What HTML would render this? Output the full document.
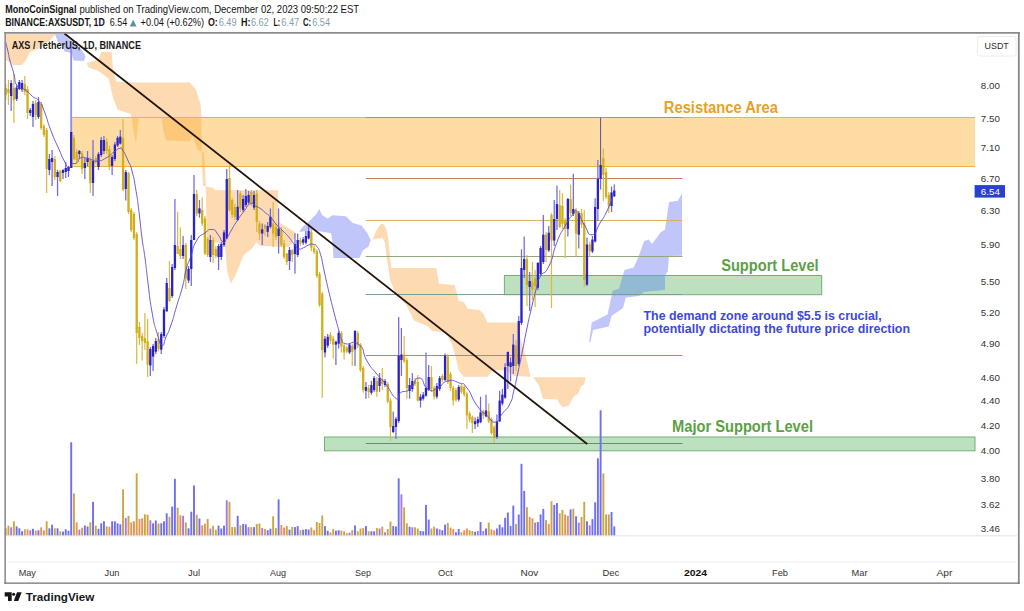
<!DOCTYPE html>
<html lang="en"><head><meta charset="utf-8"><title>AXS / TetherUS chart</title>
<style>html,body{margin:0;padding:0;background:#fff;}body{width:1024px;height:611px;overflow:hidden;position:relative;font-family:"Liberation Sans",sans-serif;}svg{position:absolute;left:0;top:0;display:block;}text{font-family:"Liberation Sans",sans-serif;}</style>
</head><body>
<svg width="1024" height="611" viewBox="0 0 1024 611">
<rect x="0" y="0" width="1024" height="611" fill="#ffffff"/>
<g id="clouds">
<polygon points="6,34 56,34 48,42 38,49 30,52 26,60 22,65 13,65 6,60" fill="#fddab2"/>
<polygon points="87,63 98.3,59.5 101.3,52 111.6,52 113,68 116,81.6 127.8,82.5 189.7,82.5 195.6,89 200.5,103.7 201.5,118.4 202,165.6 203,186 213,187.7 215,190.3 278,190.3 278.6,222 296.2,233 292.8,242.3 289.4,246.8 278,246.8 260,245.7 256.4,242 251.5,249 243.6,255 235.7,274.7 230.8,283.5 227.3,271.7 225,246.8 224,245 206.8,239.3 206,204 205.8,189 205.2,168.5 204,152 198.5,150.8 195.6,145 192.6,136 189.7,141.4 166,140.5 163,130 161.7,117 139,117 136,143.5 133.7,133 132,118.4 130.7,114 117.5,109.6 113,97.8 108.6,78.6 98.3,71 88,67" fill="#fddab2"/>
<polygon points="373,239 377,229 381,224 383.5,224 386.3,229 388.2,238 389.8,255 391.3,268 436.3,268 439,283.8 454.7,285 458.6,300.8 463.8,302 467.8,308.7 479.6,310 483.5,314 487.4,322.6 517.5,322.6 518.9,333.6 522.8,346.7 526.7,359.8 530.6,376.8 533.3,377.3 585.7,377.3 584,384.4 581,386.4 578,394 574.2,396 571.3,401 568.4,405.9 562.5,406.9 559.6,404 557.6,399.5 543,399 539,385.4 533.3,377.3 530.6,376.8 513.6,376 505.8,370.3 492.7,370.3 487.4,376.8 463.8,376.8 458.6,370.3 456,358.5 452,344 445.5,332.3 432.4,331 427,325.7 414,320.5 406.2,304.8 395.7,294.3 390.5,281 388.3,268 386.3,255 384.8,242 382.5,238 378,238.5 373,239.5" fill="#fddab2"/>
<polygon points="55,34 64,34 72,42 81,49 85.5,56 84,61 73.6,60.5 71.5,53 64.6,51.4 62.6,46 57.8,42" fill="#c0c6fa"/>
<polygon points="299.6,231 303,226.5 309.7,220.8 316.5,214 319.2,208.9 322.2,215.2 327.8,218.6 332.3,215.2 345.9,216.3 352.7,223 361.7,225.4 367.4,233.3 370.7,240 368.5,246.8 362.8,250.2 359.5,258 333.5,258 332.8,244.6 331.2,233.3 312,229.9 299.6,232" fill="#c0c6fa"/>
<polygon points="589.2,342 591.8,322.4 607.5,314.6 612.7,291 619.3,288.4 624.5,270 633.7,267.5 638.9,255.7 644,241.3 648.6,239.5 652,244 661,232 665,229.5 669,202 678,200.7 681.6,194 682,194 682,255.7 669,256 667.7,271.4 665,275.3 665,289.7 644,291.8 639,296 625.8,297.6 623,308 611.4,316 608.8,326.4 593,330 590.5,342" fill="#c0c6fa"/>
</g>
<g id="zones">
<rect x="71" y="117.5" width="904" height="49" fill="#ffb43c" fill-opacity="0.47"/>
<path d="M71 117.5H975M71 166.5H975" stroke="#ecb445" stroke-width="1.2" fill="none"/>
<rect x="504.4" y="275.5" width="317.3" height="19.2" fill="#62b866" fill-opacity="0.42" stroke="#6fb272" stroke-width="1"/>
<rect x="324.5" y="437" width="650.5" height="13.8" fill="#62b866" fill-opacity="0.42" stroke="#6fb272" stroke-width="1"/>
<clipPath id="cpS"><rect x="504.9" y="276" width="316.3" height="18.2"/></clipPath>
<polygon points="589.2,342 591.8,322.4 607.5,314.6 612.7,291 619.3,288.4 624.5,270 633.7,267.5 638.9,255.7 644,241.3 648.6,239.5 652,244 661,232 665,229.5 669,202 678,200.7 681.6,194 682,194 682,255.7 669,256 667.7,271.4 665,275.3 665,289.7 644,291.8 639,296 625.8,297.6 623,308 611.4,316 608.8,326.4 593,330 590.5,342" fill="#93bad5" clip-path="url(#cpS)"/>
</g>
<g id="levels" stroke-width="1" fill="none">
<path d="M365.7 117.5H682.5" stroke="#9aa545"/>
<path d="M365.7 178.5H682.5" stroke="#c9806a"/>
<path d="M365.7 220.5H682.5" stroke="#d2b45c"/>
<path d="M365.7 256.5H682.5" stroke="#93a67e"/>
<path d="M365.7 294.5H682.5" stroke="#78a092"/>
<path d="M365.7 355.5H682.5" stroke="#6a9cbc"/>
<path d="M365.7 443.5H682.5" stroke="#6f8a74"/>
</g>
<path d="M6 535.8H1017" stroke="#e4e4e4" stroke-width="1" fill="none"/>
<g id="volume">
<rect x="4.75" y="528.3" width="1.9" height="7.0" fill="#c9a544"/>
<rect x="7.48" y="525.7" width="1.9" height="9.6" fill="#c9a544"/>
<rect x="10.21" y="527.3" width="1.9" height="8.0" fill="#a878e6"/>
<rect x="12.94" y="521.3" width="1.9" height="14.0" fill="#c9a544"/>
<rect x="15.67" y="526.3" width="1.9" height="9.0" fill="#6f6ff2"/>
<rect x="18.39" y="528.3" width="1.9" height="7.0" fill="#6f6ff2"/>
<rect x="21.12" y="531.3" width="1.9" height="4.0" fill="#6f6ff2"/>
<rect x="23.85" y="529.3" width="1.9" height="6.0" fill="#c9a544"/>
<rect x="26.58" y="529.3" width="1.9" height="6.0" fill="#ec9058"/>
<rect x="29.31" y="530.3" width="1.9" height="5.0" fill="#a878e6"/>
<rect x="32.04" y="528.8" width="1.9" height="6.5" fill="#6f6ff2"/>
<rect x="34.77" y="530.6" width="1.9" height="4.7" fill="#c9a544"/>
<rect x="37.50" y="530.3" width="1.9" height="5.0" fill="#6f6ff2"/>
<rect x="40.23" y="527.3" width="1.9" height="8.0" fill="#ec9058"/>
<rect x="42.96" y="530.3" width="1.9" height="5.0" fill="#ec9058"/>
<rect x="45.69" y="521.3" width="1.9" height="14.0" fill="#c9a544"/>
<rect x="48.41" y="528.3" width="1.9" height="7.0" fill="#6f6ff2"/>
<rect x="51.14" y="524.7" width="1.9" height="10.6" fill="#6f6ff2"/>
<rect x="53.87" y="528.3" width="1.9" height="7.0" fill="#c9a544"/>
<rect x="56.60" y="528.3" width="1.9" height="7.0" fill="#6f6ff2"/>
<rect x="59.33" y="531.3" width="1.9" height="4.0" fill="#c9a544"/>
<rect x="62.06" y="531.6" width="1.9" height="3.7" fill="#6f6ff2"/>
<rect x="64.79" y="529.3" width="1.9" height="6.0" fill="#6f6ff2"/>
<rect x="67.52" y="530.8" width="1.9" height="4.5" fill="#6f6ff2"/>
<rect x="70.25" y="442.3" width="1.9" height="93.0" fill="#6f6ff2"/>
<rect x="72.98" y="493.3" width="1.9" height="42.0" fill="#c9a544"/>
<rect x="75.70" y="522.3" width="1.9" height="13.0" fill="#ec9058"/>
<rect x="78.43" y="529.6" width="1.9" height="5.7" fill="#a878e6"/>
<rect x="81.16" y="527.7" width="1.9" height="7.6" fill="#c9a544"/>
<rect x="83.89" y="525.5" width="1.9" height="9.8" fill="#6f6ff2"/>
<rect x="86.62" y="526.5" width="1.9" height="8.8" fill="#6f6ff2"/>
<rect x="89.35" y="522.3" width="1.9" height="13.0" fill="#c9a544"/>
<rect x="92.08" y="501.9" width="1.9" height="33.4" fill="#6f6ff2"/>
<rect x="94.81" y="525.7" width="1.9" height="9.6" fill="#c9a544"/>
<rect x="97.54" y="528.8" width="1.9" height="6.5" fill="#6f6ff2"/>
<rect x="100.27" y="523.3" width="1.9" height="12.0" fill="#6f6ff2"/>
<rect x="102.99" y="521.3" width="1.9" height="14.0" fill="#6f6ff2"/>
<rect x="105.72" y="526.3" width="1.9" height="9.0" fill="#c9a544"/>
<rect x="108.45" y="526.7" width="1.9" height="8.6" fill="#ec9058"/>
<rect x="111.18" y="521.3" width="1.9" height="14.0" fill="#6f6ff2"/>
<rect x="113.91" y="521.3" width="1.9" height="14.0" fill="#6f6ff2"/>
<rect x="116.64" y="523.3" width="1.9" height="12.0" fill="#6f6ff2"/>
<rect x="119.37" y="524.3" width="1.9" height="11.0" fill="#6f6ff2"/>
<rect x="122.10" y="489.3" width="1.9" height="46.0" fill="#c9a544"/>
<rect x="124.83" y="517.9" width="1.9" height="17.4" fill="#a878e6"/>
<rect x="127.55" y="515.8" width="1.9" height="19.5" fill="#c9a544"/>
<rect x="130.28" y="522.3" width="1.9" height="13.0" fill="#ec9058"/>
<rect x="133.01" y="521.3" width="1.9" height="14.0" fill="#ec9058"/>
<rect x="135.74" y="473.3" width="1.9" height="62.0" fill="#c9a544"/>
<rect x="138.47" y="518.9" width="1.9" height="16.4" fill="#ec9058"/>
<rect x="141.20" y="518.3" width="1.9" height="17.0" fill="#ec9058"/>
<rect x="143.93" y="514.3" width="1.9" height="21.0" fill="#c9a544"/>
<rect x="146.66" y="514.8" width="1.9" height="20.5" fill="#c9a544"/>
<rect x="149.39" y="520.3" width="1.9" height="15.0" fill="#a878e6"/>
<rect x="152.12" y="523.3" width="1.9" height="12.0" fill="#6f6ff2"/>
<rect x="154.84" y="520.5" width="1.9" height="14.8" fill="#6f6ff2"/>
<rect x="157.57" y="523.6" width="1.9" height="11.7" fill="#c9a544"/>
<rect x="160.30" y="523.3" width="1.9" height="12.0" fill="#6f6ff2"/>
<rect x="163.03" y="521.3" width="1.9" height="14.0" fill="#6f6ff2"/>
<rect x="165.76" y="513.3" width="1.9" height="22.0" fill="#6f6ff2"/>
<rect x="168.49" y="516.8" width="1.9" height="18.5" fill="#c9a544"/>
<rect x="171.22" y="506.6" width="1.9" height="28.7" fill="#6f6ff2"/>
<rect x="173.95" y="478.9" width="1.9" height="56.4" fill="#6f6ff2"/>
<rect x="176.68" y="507.6" width="1.9" height="27.7" fill="#c9a544"/>
<rect x="179.41" y="515.3" width="1.9" height="20.0" fill="#ec9058"/>
<rect x="182.14" y="515.8" width="1.9" height="19.5" fill="#a878e6"/>
<rect x="184.86" y="522.3" width="1.9" height="13.0" fill="#c9a544"/>
<rect x="187.59" y="528.3" width="1.9" height="7.0" fill="#6f6ff2"/>
<rect x="190.32" y="511.7" width="1.9" height="23.6" fill="#6f6ff2"/>
<rect x="193.05" y="485.5" width="1.9" height="49.8" fill="#6f6ff2"/>
<rect x="195.78" y="514.8" width="1.9" height="20.5" fill="#c9a544"/>
<rect x="198.51" y="518.5" width="1.9" height="16.8" fill="#6f6ff2"/>
<rect x="201.24" y="525.3" width="1.9" height="10.0" fill="#ec9058"/>
<rect x="203.97" y="523.6" width="1.9" height="11.7" fill="#ec9058"/>
<rect x="206.70" y="518.9" width="1.9" height="16.4" fill="#c9a544"/>
<rect x="209.43" y="528.5" width="1.9" height="6.8" fill="#a878e6"/>
<rect x="212.15" y="525.7" width="1.9" height="9.6" fill="#c9a544"/>
<rect x="214.88" y="529.8" width="1.9" height="5.5" fill="#c9a544"/>
<rect x="217.61" y="525.7" width="1.9" height="9.6" fill="#6f6ff2"/>
<rect x="220.34" y="528.5" width="1.9" height="6.8" fill="#6f6ff2"/>
<rect x="223.07" y="525.7" width="1.9" height="9.6" fill="#6f6ff2"/>
<rect x="225.80" y="500.4" width="1.9" height="34.9" fill="#a878e6"/>
<rect x="228.53" y="501.9" width="1.9" height="33.4" fill="#c9a544"/>
<rect x="231.26" y="527.1" width="1.9" height="8.2" fill="#c9a544"/>
<rect x="233.99" y="527.1" width="1.9" height="8.2" fill="#c9a544"/>
<rect x="236.72" y="515.8" width="1.9" height="19.5" fill="#6f6ff2"/>
<rect x="239.44" y="525.3" width="1.9" height="10.0" fill="#c9a544"/>
<rect x="242.17" y="524.0" width="1.9" height="11.3" fill="#6f6ff2"/>
<rect x="244.90" y="524.4" width="1.9" height="10.9" fill="#6f6ff2"/>
<rect x="247.63" y="527.1" width="1.9" height="8.2" fill="#a878e6"/>
<rect x="250.36" y="527.1" width="1.9" height="8.2" fill="#c9a544"/>
<rect x="253.09" y="527.1" width="1.9" height="8.2" fill="#6f6ff2"/>
<rect x="255.82" y="524.0" width="1.9" height="11.3" fill="#c9a544"/>
<rect x="258.55" y="523.4" width="1.9" height="11.9" fill="#c9a544"/>
<rect x="261.28" y="528.1" width="1.9" height="7.2" fill="#a878e6"/>
<rect x="264.00" y="529.1" width="1.9" height="6.2" fill="#c9a544"/>
<rect x="266.73" y="530.2" width="1.9" height="5.1" fill="#6f6ff2"/>
<rect x="269.46" y="528.7" width="1.9" height="6.6" fill="#6f6ff2"/>
<rect x="272.19" y="516.3" width="1.9" height="19.0" fill="#c9a544"/>
<rect x="274.92" y="528.1" width="1.9" height="7.2" fill="#c9a544"/>
<rect x="277.65" y="499.4" width="1.9" height="35.9" fill="#6f6ff2"/>
<rect x="280.38" y="525.0" width="1.9" height="10.3" fill="#ec9058"/>
<rect x="283.11" y="527.5" width="1.9" height="7.8" fill="#ec9058"/>
<rect x="285.84" y="526.1" width="1.9" height="9.2" fill="#c9a544"/>
<rect x="288.57" y="529.6" width="1.9" height="5.7" fill="#6f6ff2"/>
<rect x="291.30" y="527.1" width="1.9" height="8.2" fill="#c9a544"/>
<rect x="294.02" y="527.1" width="1.9" height="8.2" fill="#6f6ff2"/>
<rect x="296.75" y="526.1" width="1.9" height="9.2" fill="#6f6ff2"/>
<rect x="299.48" y="530.2" width="1.9" height="5.1" fill="#c9a544"/>
<rect x="302.21" y="529.8" width="1.9" height="5.5" fill="#6f6ff2"/>
<rect x="304.94" y="529.1" width="1.9" height="6.2" fill="#6f6ff2"/>
<rect x="307.67" y="529.6" width="1.9" height="5.7" fill="#6f6ff2"/>
<rect x="310.40" y="527.5" width="1.9" height="7.8" fill="#c9a544"/>
<rect x="313.13" y="530.2" width="1.9" height="5.1" fill="#ec9058"/>
<rect x="315.86" y="522.0" width="1.9" height="13.3" fill="#c9a544"/>
<rect x="318.59" y="523.0" width="1.9" height="12.3" fill="#c9a544"/>
<rect x="321.31" y="515.4" width="1.9" height="19.9" fill="#c9a544"/>
<rect x="324.04" y="526.1" width="1.9" height="9.2" fill="#6f6ff2"/>
<rect x="326.77" y="530.8" width="1.9" height="4.5" fill="#6f6ff2"/>
<rect x="329.50" y="532.3" width="1.9" height="3.0" fill="#c9a544"/>
<rect x="332.23" y="529.1" width="1.9" height="6.2" fill="#c9a544"/>
<rect x="334.96" y="530.6" width="1.9" height="4.7" fill="#6f6ff2"/>
<rect x="337.69" y="530.2" width="1.9" height="5.1" fill="#6f6ff2"/>
<rect x="340.42" y="530.6" width="1.9" height="4.7" fill="#c9a544"/>
<rect x="343.15" y="531.3" width="1.9" height="4.0" fill="#c9a544"/>
<rect x="345.88" y="533.3" width="1.9" height="2.0" fill="#c9a544"/>
<rect x="348.60" y="532.6" width="1.9" height="2.7" fill="#a878e6"/>
<rect x="351.33" y="530.2" width="1.9" height="5.1" fill="#c9a544"/>
<rect x="354.06" y="525.5" width="1.9" height="9.8" fill="#6f6ff2"/>
<rect x="356.79" y="531.3" width="1.9" height="4.0" fill="#c9a544"/>
<rect x="359.52" y="528.5" width="1.9" height="6.8" fill="#c9a544"/>
<rect x="362.25" y="528.1" width="1.9" height="7.2" fill="#c9a544"/>
<rect x="364.98" y="526.1" width="1.9" height="9.2" fill="#6f6ff2"/>
<rect x="367.71" y="531.3" width="1.9" height="4.0" fill="#c9a544"/>
<rect x="370.44" y="531.3" width="1.9" height="4.0" fill="#6f6ff2"/>
<rect x="373.17" y="531.3" width="1.9" height="4.0" fill="#6f6ff2"/>
<rect x="375.89" y="528.1" width="1.9" height="7.2" fill="#c9a544"/>
<rect x="378.62" y="528.5" width="1.9" height="6.8" fill="#a878e6"/>
<rect x="381.35" y="526.7" width="1.9" height="8.6" fill="#c9a544"/>
<rect x="384.08" y="532.3" width="1.9" height="3.0" fill="#a878e6"/>
<rect x="386.81" y="529.1" width="1.9" height="6.2" fill="#c9a544"/>
<rect x="389.54" y="521.6" width="1.9" height="13.7" fill="#c9a544"/>
<rect x="392.27" y="526.1" width="1.9" height="9.2" fill="#6f6ff2"/>
<rect x="395.00" y="526.5" width="1.9" height="8.8" fill="#6f6ff2"/>
<rect x="397.73" y="478.3" width="1.9" height="57.0" fill="#6f6ff2"/>
<rect x="400.46" y="494.3" width="1.9" height="41.0" fill="#a878e6"/>
<rect x="403.18" y="507.3" width="1.9" height="28.0" fill="#c9a544"/>
<rect x="405.91" y="523.3" width="1.9" height="12.0" fill="#c9a544"/>
<rect x="408.64" y="526.7" width="1.9" height="8.6" fill="#6f6ff2"/>
<rect x="411.37" y="527.3" width="1.9" height="8.0" fill="#a878e6"/>
<rect x="414.10" y="527.3" width="1.9" height="8.0" fill="#c9a544"/>
<rect x="416.83" y="528.5" width="1.9" height="6.8" fill="#c9a544"/>
<rect x="419.56" y="531.0" width="1.9" height="4.3" fill="#6f6ff2"/>
<rect x="422.29" y="531.3" width="1.9" height="4.0" fill="#6f6ff2"/>
<rect x="425.02" y="504.9" width="1.9" height="30.4" fill="#6f6ff2"/>
<rect x="427.75" y="519.6" width="1.9" height="15.7" fill="#6f6ff2"/>
<rect x="430.47" y="528.5" width="1.9" height="6.8" fill="#c9a544"/>
<rect x="433.20" y="526.7" width="1.9" height="8.6" fill="#c9a544"/>
<rect x="435.93" y="528.5" width="1.9" height="6.8" fill="#6f6ff2"/>
<rect x="438.66" y="529.3" width="1.9" height="6.0" fill="#a878e6"/>
<rect x="441.39" y="530.3" width="1.9" height="5.0" fill="#6f6ff2"/>
<rect x="444.12" y="524.6" width="1.9" height="10.7" fill="#6f6ff2"/>
<rect x="446.85" y="522.9" width="1.9" height="12.4" fill="#c9a544"/>
<rect x="449.58" y="527.7" width="1.9" height="7.6" fill="#ec9058"/>
<rect x="452.31" y="529.0" width="1.9" height="6.3" fill="#ec9058"/>
<rect x="455.04" y="532.3" width="1.9" height="3.0" fill="#6f6ff2"/>
<rect x="457.76" y="529.0" width="1.9" height="6.3" fill="#6f6ff2"/>
<rect x="460.49" y="532.3" width="1.9" height="3.0" fill="#c9a544"/>
<rect x="463.22" y="530.3" width="1.9" height="5.0" fill="#ec9058"/>
<rect x="465.95" y="528.5" width="1.9" height="6.8" fill="#ec9058"/>
<rect x="468.68" y="530.3" width="1.9" height="5.0" fill="#c9a544"/>
<rect x="471.41" y="531.0" width="1.9" height="4.3" fill="#c9a544"/>
<rect x="474.14" y="531.8" width="1.9" height="3.5" fill="#6f6ff2"/>
<rect x="476.87" y="531.0" width="1.9" height="4.3" fill="#a878e6"/>
<rect x="479.60" y="522.1" width="1.9" height="13.2" fill="#6f6ff2"/>
<rect x="482.32" y="531.0" width="1.9" height="4.3" fill="#a878e6"/>
<rect x="485.05" y="528.5" width="1.9" height="6.8" fill="#6f6ff2"/>
<rect x="487.78" y="522.6" width="1.9" height="12.7" fill="#c9a544"/>
<rect x="490.51" y="529.3" width="1.9" height="6.0" fill="#ec9058"/>
<rect x="493.24" y="530.3" width="1.9" height="5.0" fill="#ec9058"/>
<rect x="495.97" y="528.5" width="1.9" height="6.8" fill="#6f6ff2"/>
<rect x="498.70" y="524.6" width="1.9" height="10.7" fill="#6f6ff2"/>
<rect x="501.43" y="527.3" width="1.9" height="8.0" fill="#6f6ff2"/>
<rect x="504.16" y="517.8" width="1.9" height="17.5" fill="#6f6ff2"/>
<rect x="506.89" y="512.5" width="1.9" height="22.8" fill="#6f6ff2"/>
<rect x="509.62" y="525.9" width="1.9" height="9.4" fill="#6f6ff2"/>
<rect x="512.34" y="505.6" width="1.9" height="29.7" fill="#6f6ff2"/>
<rect x="515.07" y="523.9" width="1.9" height="11.4" fill="#c9a544"/>
<rect x="517.80" y="514.5" width="1.9" height="20.8" fill="#6f6ff2"/>
<rect x="520.53" y="463.8" width="1.9" height="71.5" fill="#6f6ff2"/>
<rect x="523.26" y="490.9" width="1.9" height="44.4" fill="#6f6ff2"/>
<rect x="525.99" y="507.3" width="1.9" height="28.0" fill="#c9a544"/>
<rect x="528.72" y="517.0" width="1.9" height="18.3" fill="#ec9058"/>
<rect x="531.45" y="518.3" width="1.9" height="17.0" fill="#c9a544"/>
<rect x="534.18" y="522.6" width="1.9" height="12.7" fill="#a878e6"/>
<rect x="536.90" y="522.1" width="1.9" height="13.2" fill="#6f6ff2"/>
<rect x="539.63" y="514.5" width="1.9" height="20.8" fill="#6f6ff2"/>
<rect x="542.36" y="508.9" width="1.9" height="26.4" fill="#6f6ff2"/>
<rect x="545.09" y="520.1" width="1.9" height="15.2" fill="#c9a544"/>
<rect x="547.82" y="523.9" width="1.9" height="11.4" fill="#ec9058"/>
<rect x="550.55" y="501.3" width="1.9" height="34.0" fill="#c9a544"/>
<rect x="553.28" y="504.9" width="1.9" height="30.4" fill="#6f6ff2"/>
<rect x="556.01" y="503.1" width="1.9" height="32.2" fill="#6f6ff2"/>
<rect x="558.74" y="513.3" width="1.9" height="22.0" fill="#c9a544"/>
<rect x="561.47" y="509.9" width="1.9" height="25.4" fill="#c9a544"/>
<rect x="564.20" y="514.5" width="1.9" height="20.8" fill="#ec9058"/>
<rect x="566.92" y="515.8" width="1.9" height="19.5" fill="#ec9058"/>
<rect x="569.65" y="509.4" width="1.9" height="25.9" fill="#6f6ff2"/>
<rect x="572.38" y="508.7" width="1.9" height="26.6" fill="#c9a544"/>
<rect x="575.11" y="516.3" width="1.9" height="19.0" fill="#6f6ff2"/>
<rect x="577.84" y="522.6" width="1.9" height="12.7" fill="#a878e6"/>
<rect x="580.57" y="517.0" width="1.9" height="18.3" fill="#c9a544"/>
<rect x="583.30" y="501.8" width="1.9" height="33.5" fill="#c9a544"/>
<rect x="586.03" y="521.3" width="1.9" height="14.0" fill="#6f6ff2"/>
<rect x="588.76" y="525.3" width="1.9" height="10.0" fill="#a878e6"/>
<rect x="591.49" y="519.1" width="1.9" height="16.2" fill="#6f6ff2"/>
<rect x="594.21" y="502.3" width="1.9" height="33.0" fill="#6f6ff2"/>
<rect x="596.94" y="458.3" width="1.9" height="77.0" fill="#6f6ff2"/>
<rect x="599.67" y="410.3" width="1.9" height="125.0" fill="#6f6ff2"/>
<rect x="602.40" y="473.3" width="1.9" height="62.0" fill="#c9a544"/>
<rect x="605.13" y="514.5" width="1.9" height="20.8" fill="#c9a544"/>
<rect x="607.86" y="514.5" width="1.9" height="20.8" fill="#c9a544"/>
<rect x="610.59" y="512.0" width="1.9" height="23.3" fill="#6f6ff2"/>
<rect x="613.32" y="526.4" width="1.9" height="8.9" fill="#6f6ff2"/>
</g>
<g id="candles">
<path d="M5.70 84.0V100.0" stroke="#d8bc42" stroke-width="1.25" fill="none"/>
<rect x="4.55" y="88.0" width="2.3" height="7.0" fill="#d2ae1e"/>
<path d="M8.43 80.0V105.0" stroke="#d8bc42" stroke-width="1.25" fill="none"/>
<rect x="7.28" y="89.0" width="2.3" height="4.0" fill="#d2ae1e"/>
<path d="M11.16 80.0V111.0" stroke="#7168de" stroke-width="1.25" fill="none"/>
<rect x="10.01" y="83.0" width="2.3" height="13.0" fill="#2a22c8"/>
<path d="M13.89 74.0V123.0" stroke="#d8bc42" stroke-width="1.25" fill="none"/>
<rect x="12.74" y="88.0" width="2.3" height="12.0" fill="#d2ae1e"/>
<path d="M16.62 85.0V101.0" stroke="#7168de" stroke-width="1.25" fill="none"/>
<rect x="15.47" y="87.5" width="2.3" height="11.5" fill="#2a22c8"/>
<path d="M19.34 80.0V90.0" stroke="#7168de" stroke-width="1.25" fill="none"/>
<rect x="18.20" y="82.0" width="2.3" height="7.0" fill="#2a22c8"/>
<path d="M22.07 80.0V92.0" stroke="#7168de" stroke-width="1.25" fill="none"/>
<rect x="20.92" y="83.0" width="2.3" height="6.5" fill="#2a22c8"/>
<path d="M24.80 76.0V95.0" stroke="#d8bc42" stroke-width="1.25" fill="none"/>
<rect x="23.65" y="84.0" width="2.3" height="8.0" fill="#d2ae1e"/>
<path d="M27.53 86.0V119.0" stroke="#d8bc42" stroke-width="1.25" fill="none"/>
<rect x="26.38" y="89.0" width="2.3" height="24.0" fill="#d2ae1e"/>
<path d="M30.26 108.0V116.0" stroke="#7168de" stroke-width="1.25" fill="none"/>
<rect x="29.11" y="110.0" width="2.3" height="3.0" fill="#2a22c8"/>
<path d="M32.99 101.0V127.0" stroke="#7168de" stroke-width="1.25" fill="none"/>
<rect x="31.84" y="104.0" width="2.3" height="13.0" fill="#2a22c8"/>
<path d="M35.72 100.0V120.0" stroke="#d8bc42" stroke-width="1.25" fill="none"/>
<rect x="34.57" y="103.0" width="2.3" height="12.0" fill="#d2ae1e"/>
<path d="M38.45 97.0V119.0" stroke="#7168de" stroke-width="1.25" fill="none"/>
<rect x="37.30" y="102.0" width="2.3" height="15.0" fill="#2a22c8"/>
<path d="M41.18 102.0V130.0" stroke="#d8bc42" stroke-width="1.25" fill="none"/>
<rect x="40.03" y="104.0" width="2.3" height="24.0" fill="#d2ae1e"/>
<path d="M43.91 124.0V137.0" stroke="#d8bc42" stroke-width="1.25" fill="none"/>
<rect x="42.76" y="126.0" width="2.3" height="9.0" fill="#d2ae1e"/>
<path d="M46.64 128.0V193.0" stroke="#d8bc42" stroke-width="1.25" fill="none"/>
<rect x="45.49" y="130.0" width="2.3" height="39.0" fill="#d2ae1e"/>
<path d="M49.36 154.0V175.0" stroke="#7168de" stroke-width="1.25" fill="none"/>
<rect x="48.21" y="159.0" width="2.3" height="11.0" fill="#2a22c8"/>
<path d="M52.09 150.0V186.0" stroke="#7168de" stroke-width="1.25" fill="none"/>
<rect x="50.94" y="158.0" width="2.3" height="4.0" fill="#2a22c8"/>
<path d="M54.82 156.0V180.0" stroke="#d8bc42" stroke-width="1.25" fill="none"/>
<rect x="53.67" y="159.0" width="2.3" height="18.0" fill="#d2ae1e"/>
<path d="M57.55 170.0V196.0" stroke="#7168de" stroke-width="1.25" fill="none"/>
<rect x="56.40" y="172.0" width="2.3" height="5.0" fill="#2a22c8"/>
<path d="M60.28 170.0V182.0" stroke="#d8bc42" stroke-width="1.25" fill="none"/>
<rect x="59.13" y="171.0" width="2.3" height="10.0" fill="#d2ae1e"/>
<path d="M63.01 169.0V179.0" stroke="#7168de" stroke-width="1.25" fill="none"/>
<rect x="61.86" y="170.0" width="2.3" height="3.0" fill="#2a22c8"/>
<path d="M65.74 162.0V178.0" stroke="#7168de" stroke-width="1.25" fill="none"/>
<rect x="64.59" y="168.0" width="2.3" height="4.0" fill="#2a22c8"/>
<path d="M68.47 166.0V177.0" stroke="#7168de" stroke-width="1.25" fill="none"/>
<rect x="67.32" y="167.0" width="2.3" height="4.0" fill="#2a22c8"/>
<path d="M71.20 47.0V168.0" stroke="#8f8ae6" stroke-width="1.8" fill="none"/>
<rect x="70.05" y="132.0" width="2.3" height="36.0" fill="#2a22c8"/>
<path d="M73.93 135.0V160.0" stroke="#d8bc42" stroke-width="1.25" fill="none"/>
<rect x="72.78" y="138.0" width="2.3" height="21.0" fill="#d2ae1e"/>
<path d="M76.65 149.0V163.0" stroke="#d8bc42" stroke-width="1.25" fill="none"/>
<rect x="75.50" y="152.0" width="2.3" height="8.0" fill="#d2ae1e"/>
<path d="M79.38 150.0V159.0" stroke="#7168de" stroke-width="1.25" fill="none"/>
<rect x="78.23" y="151.0" width="2.3" height="3.0" fill="#2a22c8"/>
<path d="M82.11 151.0V174.0" stroke="#d8bc42" stroke-width="1.25" fill="none"/>
<rect x="80.96" y="153.0" width="2.3" height="16.0" fill="#d2ae1e"/>
<path d="M84.84 158.0V179.0" stroke="#7168de" stroke-width="1.25" fill="none"/>
<rect x="83.69" y="163.0" width="2.3" height="5.0" fill="#2a22c8"/>
<path d="M87.57 151.0V166.0" stroke="#7168de" stroke-width="1.25" fill="none"/>
<rect x="86.42" y="158.0" width="2.3" height="4.0" fill="#2a22c8"/>
<path d="M90.30 157.0V193.0" stroke="#d8bc42" stroke-width="1.25" fill="none"/>
<rect x="89.15" y="160.0" width="2.3" height="23.0" fill="#d2ae1e"/>
<path d="M93.03 140.0V196.0" stroke="#7168de" stroke-width="1.25" fill="none"/>
<rect x="91.88" y="161.0" width="2.3" height="22.0" fill="#2a22c8"/>
<path d="M95.76 156.0V164.0" stroke="#d8bc42" stroke-width="1.25" fill="none"/>
<rect x="94.61" y="158.0" width="2.3" height="4.0" fill="#d2ae1e"/>
<path d="M98.49 152.0V170.0" stroke="#7168de" stroke-width="1.25" fill="none"/>
<rect x="97.34" y="154.0" width="2.3" height="13.0" fill="#2a22c8"/>
<path d="M101.22 137.0V157.0" stroke="#7168de" stroke-width="1.25" fill="none"/>
<rect x="100.06" y="140.0" width="2.3" height="15.0" fill="#2a22c8"/>
<path d="M103.94 136.0V154.0" stroke="#7168de" stroke-width="1.25" fill="none"/>
<rect x="102.79" y="140.0" width="2.3" height="11.0" fill="#2a22c8"/>
<path d="M106.67 138.0V154.0" stroke="#d8bc42" stroke-width="1.25" fill="none"/>
<rect x="105.52" y="141.6" width="2.3" height="9.4" fill="#d2ae1e"/>
<path d="M109.40 146.0V170.0" stroke="#d8bc42" stroke-width="1.25" fill="none"/>
<rect x="108.25" y="149.0" width="2.3" height="18.0" fill="#d2ae1e"/>
<path d="M112.13 155.0V175.0" stroke="#7168de" stroke-width="1.25" fill="none"/>
<rect x="110.98" y="157.0" width="2.3" height="9.0" fill="#2a22c8"/>
<path d="M114.86 142.0V161.0" stroke="#7168de" stroke-width="1.25" fill="none"/>
<rect x="113.71" y="144.5" width="2.3" height="14.5" fill="#2a22c8"/>
<path d="M117.59 136.0V147.0" stroke="#7168de" stroke-width="1.25" fill="none"/>
<rect x="116.44" y="137.7" width="2.3" height="7.8" fill="#2a22c8"/>
<path d="M120.32 130.0V144.5" stroke="#7168de" stroke-width="1.25" fill="none"/>
<rect x="119.17" y="136.7" width="2.3" height="6.9" fill="#2a22c8"/>
<path d="M123.05 119.0V191.0" stroke="#d8bc42" stroke-width="1.25" fill="none"/>
<rect x="121.90" y="138.0" width="2.3" height="52.0" fill="#d2ae1e"/>
<path d="M125.78 170.0V200.5" stroke="#7168de" stroke-width="1.25" fill="none"/>
<rect x="124.63" y="172.0" width="2.3" height="17.0" fill="#2a22c8"/>
<path d="M128.50 172.0V214.0" stroke="#d8bc42" stroke-width="1.25" fill="none"/>
<rect x="127.35" y="173.0" width="2.3" height="39.0" fill="#d2ae1e"/>
<path d="M131.23 208.0V232.0" stroke="#d8bc42" stroke-width="1.25" fill="none"/>
<rect x="130.08" y="210.0" width="2.3" height="20.0" fill="#d2ae1e"/>
<path d="M133.96 212.0V240.0" stroke="#d8bc42" stroke-width="1.25" fill="none"/>
<rect x="132.81" y="214.0" width="2.3" height="24.0" fill="#d2ae1e"/>
<path d="M136.69 232.0V364.0" stroke="#d8bc42" stroke-width="1.25" fill="none"/>
<rect x="135.54" y="234.0" width="2.3" height="99.0" fill="#d2ae1e"/>
<path d="M139.42 322.0V345.0" stroke="#d8bc42" stroke-width="1.25" fill="none"/>
<rect x="138.27" y="327.0" width="2.3" height="11.0" fill="#d2ae1e"/>
<path d="M142.15 333.0V360.5" stroke="#d8bc42" stroke-width="1.25" fill="none"/>
<rect x="141.00" y="336.0" width="2.3" height="5.0" fill="#d2ae1e"/>
<path d="M144.88 313.0V350.0" stroke="#d8bc42" stroke-width="1.25" fill="none"/>
<rect x="143.73" y="338.0" width="2.3" height="5.0" fill="#d2ae1e"/>
<path d="M147.61 319.0V377.0" stroke="#d8bc42" stroke-width="1.25" fill="none"/>
<rect x="146.46" y="341.0" width="2.3" height="23.5" fill="#d2ae1e"/>
<path d="M150.34 347.0V376.0" stroke="#7168de" stroke-width="1.25" fill="none"/>
<rect x="149.19" y="349.0" width="2.3" height="16.5" fill="#2a22c8"/>
<path d="M153.07 344.0V371.0" stroke="#7168de" stroke-width="1.25" fill="none"/>
<rect x="151.92" y="346.0" width="2.3" height="10.6" fill="#2a22c8"/>
<path d="M155.79 338.0V354.0" stroke="#7168de" stroke-width="1.25" fill="none"/>
<rect x="154.64" y="341.0" width="2.3" height="10.7" fill="#2a22c8"/>
<path d="M158.52 332.0V351.0" stroke="#d8bc42" stroke-width="1.25" fill="none"/>
<rect x="157.37" y="339.0" width="2.3" height="10.0" fill="#d2ae1e"/>
<path d="M161.25 332.0V354.0" stroke="#7168de" stroke-width="1.25" fill="none"/>
<rect x="160.10" y="334.0" width="2.3" height="15.7" fill="#2a22c8"/>
<path d="M163.98 307.0V338.0" stroke="#7168de" stroke-width="1.25" fill="none"/>
<rect x="162.83" y="309.5" width="2.3" height="26.5" fill="#2a22c8"/>
<path d="M166.71 278.0V311.4" stroke="#7168de" stroke-width="1.25" fill="none"/>
<rect x="165.56" y="283.0" width="2.3" height="28.4" fill="#2a22c8"/>
<path d="M169.44 261.0V302.0" stroke="#d8bc42" stroke-width="1.25" fill="none"/>
<rect x="168.29" y="288.0" width="2.3" height="13.0" fill="#d2ae1e"/>
<path d="M172.17 264.0V298.0" stroke="#7168de" stroke-width="1.25" fill="none"/>
<rect x="171.02" y="267.0" width="2.3" height="29.0" fill="#2a22c8"/>
<path d="M174.90 199.0V270.0" stroke="#7168de" stroke-width="1.25" fill="none"/>
<rect x="173.75" y="245.0" width="2.3" height="23.0" fill="#2a22c8"/>
<path d="M177.63 211.8V254.0" stroke="#d8bc42" stroke-width="1.25" fill="none"/>
<rect x="176.48" y="246.0" width="2.3" height="8.0" fill="#d2ae1e"/>
<path d="M180.36 227.5V259.0" stroke="#d8bc42" stroke-width="1.25" fill="none"/>
<rect x="179.21" y="249.0" width="2.3" height="7.0" fill="#d2ae1e"/>
<path d="M183.09 236.0V259.0" stroke="#7168de" stroke-width="1.25" fill="none"/>
<rect x="181.94" y="245.0" width="2.3" height="11.0" fill="#2a22c8"/>
<path d="M185.81 243.0V289.0" stroke="#d8bc42" stroke-width="1.25" fill="none"/>
<rect x="184.66" y="245.0" width="2.3" height="33.6" fill="#d2ae1e"/>
<path d="M188.54 266.0V283.0" stroke="#7168de" stroke-width="1.25" fill="none"/>
<rect x="187.39" y="268.8" width="2.3" height="11.7" fill="#2a22c8"/>
<path d="M191.27 235.0V286.0" stroke="#7168de" stroke-width="1.25" fill="none"/>
<rect x="190.12" y="240.0" width="2.3" height="29.0" fill="#2a22c8"/>
<path d="M194.00 175.0V240.0" stroke="#7168de" stroke-width="1.25" fill="none"/>
<rect x="192.85" y="194.0" width="2.3" height="46.0" fill="#2a22c8"/>
<path d="M196.73 190.0V216.0" stroke="#d8bc42" stroke-width="1.25" fill="none"/>
<rect x="195.58" y="194.0" width="2.3" height="19.4" fill="#d2ae1e"/>
<path d="M199.46 200.0V217.6" stroke="#7168de" stroke-width="1.25" fill="none"/>
<rect x="198.31" y="208.4" width="2.3" height="5.0" fill="#2a22c8"/>
<path d="M202.19 197.6V226.0" stroke="#d8bc42" stroke-width="1.25" fill="none"/>
<rect x="201.04" y="210.0" width="2.3" height="13.5" fill="#d2ae1e"/>
<path d="M204.92 216.0V255.0" stroke="#d8bc42" stroke-width="1.25" fill="none"/>
<rect x="203.77" y="218.5" width="2.3" height="35.0" fill="#d2ae1e"/>
<path d="M207.65 237.0V257.0" stroke="#d8bc42" stroke-width="1.25" fill="none"/>
<rect x="206.50" y="239.0" width="2.3" height="16.0" fill="#d2ae1e"/>
<path d="M210.38 235.0V262.0" stroke="#7168de" stroke-width="1.25" fill="none"/>
<rect x="209.22" y="240.0" width="2.3" height="17.0" fill="#2a22c8"/>
<path d="M213.10 237.0V263.0" stroke="#d8bc42" stroke-width="1.25" fill="none"/>
<rect x="211.95" y="240.0" width="2.3" height="15.0" fill="#d2ae1e"/>
<path d="M215.83 246.0V258.0" stroke="#d8bc42" stroke-width="1.25" fill="none"/>
<rect x="214.68" y="249.0" width="2.3" height="7.0" fill="#d2ae1e"/>
<path d="M218.56 244.0V270.0" stroke="#7168de" stroke-width="1.25" fill="none"/>
<rect x="217.41" y="246.0" width="2.3" height="11.0" fill="#2a22c8"/>
<path d="M221.29 242.0V260.0" stroke="#7168de" stroke-width="1.25" fill="none"/>
<rect x="220.14" y="244.0" width="2.3" height="13.0" fill="#2a22c8"/>
<path d="M224.02 230.0V247.0" stroke="#7168de" stroke-width="1.25" fill="none"/>
<rect x="222.87" y="232.4" width="2.3" height="12.6" fill="#2a22c8"/>
<path d="M226.75 169.0V238.5" stroke="#7168de" stroke-width="1.25" fill="none"/>
<rect x="225.60" y="179.0" width="2.3" height="59.5" fill="#2a22c8"/>
<path d="M229.48 165.0V212.0" stroke="#d8bc42" stroke-width="1.25" fill="none"/>
<rect x="228.33" y="178.0" width="2.3" height="32.0" fill="#d2ae1e"/>
<path d="M232.21 198.0V218.0" stroke="#d8bc42" stroke-width="1.25" fill="none"/>
<rect x="231.06" y="200.0" width="2.3" height="15.0" fill="#d2ae1e"/>
<path d="M234.94 204.0V220.0" stroke="#d8bc42" stroke-width="1.25" fill="none"/>
<rect x="233.79" y="207.0" width="2.3" height="10.0" fill="#d2ae1e"/>
<path d="M237.66 190.0V221.0" stroke="#7168de" stroke-width="1.25" fill="none"/>
<rect x="236.51" y="206.8" width="2.3" height="13.2" fill="#2a22c8"/>
<path d="M240.39 191.0V212.0" stroke="#d8bc42" stroke-width="1.25" fill="none"/>
<rect x="239.24" y="193.4" width="2.3" height="15.0" fill="#d2ae1e"/>
<path d="M243.12 195.0V212.0" stroke="#7168de" stroke-width="1.25" fill="none"/>
<rect x="241.97" y="199.0" width="2.3" height="11.0" fill="#2a22c8"/>
<path d="M245.85 189.0V207.0" stroke="#7168de" stroke-width="1.25" fill="none"/>
<rect x="244.70" y="196.0" width="2.3" height="9.0" fill="#2a22c8"/>
<path d="M248.58 191.0V204.3" stroke="#7168de" stroke-width="1.25" fill="none"/>
<rect x="247.43" y="195.0" width="2.3" height="7.6" fill="#2a22c8"/>
<path d="M251.31 190.0V206.0" stroke="#d8bc42" stroke-width="1.25" fill="none"/>
<rect x="250.16" y="192.0" width="2.3" height="12.0" fill="#d2ae1e"/>
<path d="M254.04 191.0V210.0" stroke="#7168de" stroke-width="1.25" fill="none"/>
<rect x="252.89" y="195.0" width="2.3" height="12.6" fill="#2a22c8"/>
<path d="M256.77 190.0V232.0" stroke="#d8bc42" stroke-width="1.25" fill="none"/>
<rect x="255.62" y="193.4" width="2.3" height="28.4" fill="#d2ae1e"/>
<path d="M259.50 221.0V240.0" stroke="#d8bc42" stroke-width="1.25" fill="none"/>
<rect x="258.35" y="223.5" width="2.3" height="10.0" fill="#d2ae1e"/>
<path d="M262.23 223.5V245.0" stroke="#7168de" stroke-width="1.25" fill="none"/>
<rect x="261.08" y="229.3" width="2.3" height="4.2" fill="#2a22c8"/>
<path d="M264.95 224.0V236.0" stroke="#d8bc42" stroke-width="1.25" fill="none"/>
<rect x="263.81" y="225.0" width="2.3" height="3.5" fill="#d2ae1e"/>
<path d="M267.68 222.0V237.0" stroke="#7168de" stroke-width="1.25" fill="none"/>
<rect x="266.53" y="226.0" width="2.3" height="5.8" fill="#2a22c8"/>
<path d="M270.41 208.4V228.5" stroke="#7168de" stroke-width="1.25" fill="none"/>
<rect x="269.26" y="216.8" width="2.3" height="10.0" fill="#2a22c8"/>
<path d="M273.14 201.7V246.8" stroke="#d8bc42" stroke-width="1.25" fill="none"/>
<rect x="271.99" y="223.4" width="2.3" height="10.1" fill="#d2ae1e"/>
<path d="M275.87 224.0V240.0" stroke="#d8bc42" stroke-width="1.25" fill="none"/>
<rect x="274.72" y="226.8" width="2.3" height="10.0" fill="#d2ae1e"/>
<path d="M278.60 208.4V253.5" stroke="#7168de" stroke-width="1.25" fill="none"/>
<rect x="277.45" y="228.5" width="2.3" height="7.5" fill="#2a22c8"/>
<path d="M281.33 227.0V247.0" stroke="#d8bc42" stroke-width="1.25" fill="none"/>
<rect x="280.18" y="230.0" width="2.3" height="15.0" fill="#d2ae1e"/>
<path d="M284.06 240.0V259.0" stroke="#d8bc42" stroke-width="1.25" fill="none"/>
<rect x="282.91" y="243.5" width="2.3" height="13.5" fill="#d2ae1e"/>
<path d="M286.79 253.0V265.0" stroke="#d8bc42" stroke-width="1.25" fill="none"/>
<rect x="285.64" y="253.5" width="2.3" height="8.5" fill="#d2ae1e"/>
<path d="M289.52 247.0V270.0" stroke="#7168de" stroke-width="1.25" fill="none"/>
<rect x="288.37" y="250.0" width="2.3" height="11.0" fill="#2a22c8"/>
<path d="M292.25 249.0V262.0" stroke="#d8bc42" stroke-width="1.25" fill="none"/>
<rect x="291.10" y="250.2" width="2.3" height="4.8" fill="#d2ae1e"/>
<path d="M294.97 233.5V273.7" stroke="#7168de" stroke-width="1.25" fill="none"/>
<rect x="293.82" y="244.0" width="2.3" height="10.0" fill="#2a22c8"/>
<path d="M297.70 233.5V257.0" stroke="#7168de" stroke-width="1.25" fill="none"/>
<rect x="296.55" y="240.0" width="2.3" height="15.0" fill="#2a22c8"/>
<path d="M300.43 238.0V246.0" stroke="#d8bc42" stroke-width="1.25" fill="none"/>
<rect x="299.28" y="240.2" width="2.3" height="3.3" fill="#d2ae1e"/>
<path d="M303.16 237.0V245.0" stroke="#7168de" stroke-width="1.25" fill="none"/>
<rect x="302.01" y="239.3" width="2.3" height="3.4" fill="#2a22c8"/>
<path d="M305.89 231.0V244.3" stroke="#7168de" stroke-width="1.25" fill="none"/>
<rect x="304.74" y="236.0" width="2.3" height="6.7" fill="#2a22c8"/>
<path d="M308.62 224.0V239.5" stroke="#7168de" stroke-width="1.25" fill="none"/>
<rect x="307.47" y="231.0" width="2.3" height="7.5" fill="#2a22c8"/>
<path d="M311.35 230.0V251.0" stroke="#d8bc42" stroke-width="1.25" fill="none"/>
<rect x="310.20" y="231.8" width="2.3" height="15.9" fill="#d2ae1e"/>
<path d="M314.08 245.0V254.0" stroke="#d8bc42" stroke-width="1.25" fill="none"/>
<rect x="312.93" y="247.7" width="2.3" height="4.1" fill="#d2ae1e"/>
<path d="M316.81 249.0V278.0" stroke="#d8bc42" stroke-width="1.25" fill="none"/>
<rect x="315.66" y="251.0" width="2.3" height="25.0" fill="#d2ae1e"/>
<path d="M319.54 272.0V307.0" stroke="#d8bc42" stroke-width="1.25" fill="none"/>
<rect x="318.39" y="274.0" width="2.3" height="31.0" fill="#d2ae1e"/>
<path d="M322.26 292.0V397.7" stroke="#d8bc42" stroke-width="1.25" fill="none"/>
<rect x="321.11" y="293.6" width="2.3" height="56.4" fill="#d2ae1e"/>
<path d="M324.99 336.0V357.4" stroke="#7168de" stroke-width="1.25" fill="none"/>
<rect x="323.84" y="338.7" width="2.3" height="13.8" fill="#2a22c8"/>
<path d="M327.72 334.0V348.0" stroke="#7168de" stroke-width="1.25" fill="none"/>
<rect x="326.57" y="336.8" width="2.3" height="8.8" fill="#2a22c8"/>
<path d="M330.45 332.0V344.0" stroke="#d8bc42" stroke-width="1.25" fill="none"/>
<rect x="329.30" y="334.8" width="2.3" height="5.9" fill="#d2ae1e"/>
<path d="M333.18 336.0V358.4" stroke="#d8bc42" stroke-width="1.25" fill="none"/>
<rect x="332.03" y="338.7" width="2.3" height="5.9" fill="#d2ae1e"/>
<path d="M335.91 340.7V365.0" stroke="#7168de" stroke-width="1.25" fill="none"/>
<rect x="334.76" y="341.7" width="2.3" height="2.9" fill="#2a22c8"/>
<path d="M338.64 331.0V348.6" stroke="#7168de" stroke-width="1.25" fill="none"/>
<rect x="337.49" y="333.0" width="2.3" height="10.7" fill="#2a22c8"/>
<path d="M341.37 331.0V352.5" stroke="#d8bc42" stroke-width="1.25" fill="none"/>
<rect x="340.22" y="333.0" width="2.3" height="13.6" fill="#d2ae1e"/>
<path d="M344.10 344.0V359.4" stroke="#d8bc42" stroke-width="1.25" fill="none"/>
<rect x="342.95" y="345.6" width="2.3" height="6.9" fill="#d2ae1e"/>
<path d="M346.82 346.0V353.0" stroke="#d8bc42" stroke-width="1.25" fill="none"/>
<rect x="345.68" y="347.6" width="2.3" height="3.9" fill="#d2ae1e"/>
<path d="M349.55 343.0V354.0" stroke="#7168de" stroke-width="1.25" fill="none"/>
<rect x="348.40" y="344.6" width="2.3" height="7.9" fill="#2a22c8"/>
<path d="M352.28 343.7V366.3" stroke="#d8bc42" stroke-width="1.25" fill="none"/>
<rect x="351.13" y="346.0" width="2.3" height="6.0" fill="#d2ae1e"/>
<path d="M355.01 330.0V366.0" stroke="#7168de" stroke-width="1.25" fill="none"/>
<rect x="353.86" y="331.0" width="2.3" height="18.5" fill="#2a22c8"/>
<path d="M357.74 331.0V348.0" stroke="#d8bc42" stroke-width="1.25" fill="none"/>
<rect x="356.59" y="333.0" width="2.3" height="12.6" fill="#d2ae1e"/>
<path d="M360.47 343.0V372.0" stroke="#d8bc42" stroke-width="1.25" fill="none"/>
<rect x="359.32" y="344.6" width="2.3" height="25.4" fill="#d2ae1e"/>
<path d="M363.20 366.0V392.8" stroke="#d8bc42" stroke-width="1.25" fill="none"/>
<rect x="362.05" y="368.0" width="2.3" height="22.0" fill="#d2ae1e"/>
<path d="M365.93 382.0V398.7" stroke="#7168de" stroke-width="1.25" fill="none"/>
<rect x="364.78" y="387.0" width="2.3" height="3.8" fill="#2a22c8"/>
<path d="M368.66 385.0V398.0" stroke="#d8bc42" stroke-width="1.25" fill="none"/>
<rect x="367.51" y="388.0" width="2.3" height="4.0" fill="#d2ae1e"/>
<path d="M371.39 381.0V394.7" stroke="#7168de" stroke-width="1.25" fill="none"/>
<rect x="370.24" y="385.0" width="2.3" height="7.8" fill="#2a22c8"/>
<path d="M374.12 376.0V392.0" stroke="#7168de" stroke-width="1.25" fill="none"/>
<rect x="372.97" y="378.0" width="2.3" height="12.0" fill="#2a22c8"/>
<path d="M376.84 377.0V396.7" stroke="#d8bc42" stroke-width="1.25" fill="none"/>
<rect x="375.69" y="381.0" width="2.3" height="10.8" fill="#d2ae1e"/>
<path d="M379.57 373.0V391.8" stroke="#7168de" stroke-width="1.25" fill="none"/>
<rect x="378.42" y="378.0" width="2.3" height="8.0" fill="#2a22c8"/>
<path d="M382.30 368.0V390.0" stroke="#d8bc42" stroke-width="1.25" fill="none"/>
<rect x="381.15" y="379.0" width="2.3" height="5.0" fill="#d2ae1e"/>
<path d="M385.03 379.0V387.0" stroke="#7168de" stroke-width="1.25" fill="none"/>
<rect x="383.88" y="381.0" width="2.3" height="4.0" fill="#2a22c8"/>
<path d="M387.76 382.0V403.0" stroke="#d8bc42" stroke-width="1.25" fill="none"/>
<rect x="386.61" y="384.0" width="2.3" height="17.6" fill="#d2ae1e"/>
<path d="M390.49 398.0V441.0" stroke="#d8bc42" stroke-width="1.25" fill="none"/>
<rect x="389.34" y="400.6" width="2.3" height="26.4" fill="#d2ae1e"/>
<path d="M393.22 411.4V433.0" stroke="#7168de" stroke-width="1.25" fill="none"/>
<rect x="392.07" y="426.0" width="2.3" height="6.0" fill="#2a22c8"/>
<path d="M395.95 417.0V439.0" stroke="#7168de" stroke-width="1.25" fill="none"/>
<rect x="394.80" y="419.0" width="2.3" height="8.0" fill="#2a22c8"/>
<path d="M398.68 317.0V423.0" stroke="#7168de" stroke-width="1.25" fill="none"/>
<rect x="397.53" y="355.5" width="2.3" height="65.5" fill="#2a22c8"/>
<path d="M401.41 328.0V376.0" stroke="#7168de" stroke-width="1.25" fill="none"/>
<rect x="400.26" y="354.5" width="2.3" height="5.5" fill="#2a22c8"/>
<path d="M404.13 336.0V363.0" stroke="#d8bc42" stroke-width="1.25" fill="none"/>
<rect x="402.98" y="354.5" width="2.3" height="6.8" fill="#d2ae1e"/>
<path d="M406.86 358.0V398.7" stroke="#d8bc42" stroke-width="1.25" fill="none"/>
<rect x="405.71" y="360.0" width="2.3" height="28.0" fill="#d2ae1e"/>
<path d="M409.59 378.0V398.7" stroke="#7168de" stroke-width="1.25" fill="none"/>
<rect x="408.44" y="385.0" width="2.3" height="6.0" fill="#2a22c8"/>
<path d="M412.32 373.0V391.8" stroke="#7168de" stroke-width="1.25" fill="none"/>
<rect x="411.17" y="381.0" width="2.3" height="8.0" fill="#2a22c8"/>
<path d="M415.05 378.0V386.0" stroke="#d8bc42" stroke-width="1.25" fill="none"/>
<rect x="413.90" y="381.0" width="2.3" height="3.0" fill="#d2ae1e"/>
<path d="M417.78 375.0V401.6" stroke="#d8bc42" stroke-width="1.25" fill="none"/>
<rect x="416.63" y="382.0" width="2.3" height="18.6" fill="#d2ae1e"/>
<path d="M420.51 394.0V407.5" stroke="#7168de" stroke-width="1.25" fill="none"/>
<rect x="419.36" y="396.7" width="2.3" height="3.9" fill="#2a22c8"/>
<path d="M423.24 392.0V400.6" stroke="#7168de" stroke-width="1.25" fill="none"/>
<rect x="422.09" y="394.7" width="2.3" height="4.0" fill="#2a22c8"/>
<path d="M425.97 352.5V396.7" stroke="#7168de" stroke-width="1.25" fill="none"/>
<rect x="424.82" y="388.0" width="2.3" height="7.7" fill="#2a22c8"/>
<path d="M428.69 365.0V391.0" stroke="#7168de" stroke-width="1.25" fill="none"/>
<rect x="427.55" y="377.0" width="2.3" height="13.0" fill="#2a22c8"/>
<path d="M431.42 366.0V392.0" stroke="#d8bc42" stroke-width="1.25" fill="none"/>
<rect x="430.27" y="377.0" width="2.3" height="12.0" fill="#d2ae1e"/>
<path d="M434.15 386.0V399.6" stroke="#d8bc42" stroke-width="1.25" fill="none"/>
<rect x="433.00" y="388.0" width="2.3" height="8.7" fill="#d2ae1e"/>
<path d="M436.88 383.0V398.7" stroke="#7168de" stroke-width="1.25" fill="none"/>
<rect x="435.73" y="386.0" width="2.3" height="10.7" fill="#2a22c8"/>
<path d="M439.61 376.0V391.0" stroke="#7168de" stroke-width="1.25" fill="none"/>
<rect x="438.46" y="378.0" width="2.3" height="11.0" fill="#2a22c8"/>
<path d="M442.34 374.0V382.0" stroke="#d8bc42" stroke-width="1.25" fill="none"/>
<rect x="441.19" y="376.0" width="2.3" height="4.0" fill="#d2ae1e"/>
<path d="M445.07 353.5V381.0" stroke="#7168de" stroke-width="1.25" fill="none"/>
<rect x="443.92" y="355.5" width="2.3" height="24.5" fill="#2a22c8"/>
<path d="M447.80 354.0V384.0" stroke="#d8bc42" stroke-width="1.25" fill="none"/>
<rect x="446.65" y="356.4" width="2.3" height="25.6" fill="#d2ae1e"/>
<path d="M450.53 372.0V391.0" stroke="#d8bc42" stroke-width="1.25" fill="none"/>
<rect x="449.38" y="374.0" width="2.3" height="14.0" fill="#d2ae1e"/>
<path d="M453.26 386.0V405.5" stroke="#d8bc42" stroke-width="1.25" fill="none"/>
<rect x="452.11" y="388.0" width="2.3" height="12.6" fill="#d2ae1e"/>
<path d="M455.99 388.0V402.0" stroke="#d8bc42" stroke-width="1.25" fill="none"/>
<rect x="454.84" y="390.0" width="2.3" height="9.6" fill="#d2ae1e"/>
<path d="M458.71 385.0V401.6" stroke="#7168de" stroke-width="1.25" fill="none"/>
<rect x="457.56" y="387.0" width="2.3" height="12.6" fill="#2a22c8"/>
<path d="M461.44 384.0V393.8" stroke="#d8bc42" stroke-width="1.25" fill="none"/>
<rect x="460.29" y="386.0" width="2.3" height="5.8" fill="#d2ae1e"/>
<path d="M464.17 385.0V396.7" stroke="#d8bc42" stroke-width="1.25" fill="none"/>
<rect x="463.02" y="387.0" width="2.3" height="7.7" fill="#d2ae1e"/>
<path d="M466.90 391.8V429.0" stroke="#d8bc42" stroke-width="1.25" fill="none"/>
<rect x="465.75" y="393.8" width="2.3" height="21.6" fill="#d2ae1e"/>
<path d="M469.63 411.4V422.0" stroke="#d8bc42" stroke-width="1.25" fill="none"/>
<rect x="468.48" y="413.4" width="2.3" height="5.9" fill="#d2ae1e"/>
<path d="M472.36 415.4V433.0" stroke="#d8bc42" stroke-width="1.25" fill="none"/>
<rect x="471.21" y="417.3" width="2.3" height="5.9" fill="#d2ae1e"/>
<path d="M475.09 417.3V429.0" stroke="#7168de" stroke-width="1.25" fill="none"/>
<rect x="473.94" y="421.3" width="2.3" height="2.9" fill="#2a22c8"/>
<path d="M477.82 416.4V427.0" stroke="#7168de" stroke-width="1.25" fill="none"/>
<rect x="476.67" y="419.3" width="2.3" height="3.9" fill="#2a22c8"/>
<path d="M480.55 396.7V423.2" stroke="#7168de" stroke-width="1.25" fill="none"/>
<rect x="479.40" y="412.4" width="2.3" height="9.8" fill="#2a22c8"/>
<path d="M483.27 409.5V419.3" stroke="#d8bc42" stroke-width="1.25" fill="none"/>
<rect x="482.12" y="411.4" width="2.3" height="4.0" fill="#d2ae1e"/>
<path d="M486.00 394.7V417.3" stroke="#7168de" stroke-width="1.25" fill="none"/>
<rect x="484.85" y="410.5" width="2.3" height="5.9" fill="#2a22c8"/>
<path d="M488.73 403.6V423.2" stroke="#d8bc42" stroke-width="1.25" fill="none"/>
<rect x="487.58" y="411.4" width="2.3" height="9.9" fill="#d2ae1e"/>
<path d="M491.46 417.3V435.0" stroke="#d8bc42" stroke-width="1.25" fill="none"/>
<rect x="490.31" y="419.3" width="2.3" height="13.7" fill="#d2ae1e"/>
<path d="M494.19 425.2V443.0" stroke="#d8bc42" stroke-width="1.25" fill="none"/>
<rect x="493.04" y="427.2" width="2.3" height="10.8" fill="#d2ae1e"/>
<path d="M496.92 414.4V439.0" stroke="#7168de" stroke-width="1.25" fill="none"/>
<rect x="495.77" y="421.3" width="2.3" height="15.7" fill="#2a22c8"/>
<path d="M499.65 390.8V422.0" stroke="#7168de" stroke-width="1.25" fill="none"/>
<rect x="498.50" y="400.6" width="2.3" height="20.7" fill="#2a22c8"/>
<path d="M502.38 388.9V405.5" stroke="#7168de" stroke-width="1.25" fill="none"/>
<rect x="501.23" y="394.7" width="2.3" height="8.9" fill="#2a22c8"/>
<path d="M505.11 363.3V398.7" stroke="#7168de" stroke-width="1.25" fill="none"/>
<rect x="503.96" y="367.2" width="2.3" height="30.5" fill="#2a22c8"/>
<path d="M507.84 351.5V389.0" stroke="#7168de" stroke-width="1.25" fill="none"/>
<rect x="506.69" y="352.0" width="2.3" height="14.0" fill="#2a22c8"/>
<path d="M510.56 357.4V381.5" stroke="#7168de" stroke-width="1.25" fill="none"/>
<rect x="509.42" y="362.3" width="2.3" height="4.7" fill="#2a22c8"/>
<path d="M513.29 334.0V374.0" stroke="#7168de" stroke-width="1.25" fill="none"/>
<rect x="512.14" y="344.6" width="2.3" height="21.4" fill="#2a22c8"/>
<path d="M516.02 340.0V371.0" stroke="#d8bc42" stroke-width="1.25" fill="none"/>
<rect x="514.87" y="345.6" width="2.3" height="20.4" fill="#d2ae1e"/>
<path d="M518.75 316.0V366.0" stroke="#7168de" stroke-width="1.25" fill="none"/>
<rect x="517.60" y="321.0" width="2.3" height="43.0" fill="#2a22c8"/>
<path d="M521.48 249.4V325.0" stroke="#7168de" stroke-width="1.25" fill="none"/>
<rect x="520.33" y="268.0" width="2.3" height="55.0" fill="#2a22c8"/>
<path d="M524.21 236.6V278.0" stroke="#7168de" stroke-width="1.25" fill="none"/>
<rect x="523.06" y="259.0" width="2.3" height="11.0" fill="#2a22c8"/>
<path d="M526.94 255.0V306.0" stroke="#d8bc42" stroke-width="1.25" fill="none"/>
<rect x="525.79" y="259.0" width="2.3" height="26.0" fill="#d2ae1e"/>
<path d="M529.67 272.0V311.0" stroke="#7168de" stroke-width="1.25" fill="none"/>
<rect x="528.52" y="281.0" width="2.3" height="6.0" fill="#2a22c8"/>
<path d="M532.40 262.0V300.0" stroke="#d8bc42" stroke-width="1.25" fill="none"/>
<rect x="531.25" y="281.8" width="2.3" height="7.8" fill="#d2ae1e"/>
<path d="M535.13 270.0V307.3" stroke="#d8bc42" stroke-width="1.25" fill="none"/>
<rect x="533.98" y="278.0" width="2.3" height="8.0" fill="#d2ae1e"/>
<path d="M537.86 262.0V290.0" stroke="#7168de" stroke-width="1.25" fill="none"/>
<rect x="536.71" y="263.0" width="2.3" height="24.7" fill="#2a22c8"/>
<path d="M540.58 246.0V276.0" stroke="#7168de" stroke-width="1.25" fill="none"/>
<rect x="539.43" y="248.0" width="2.3" height="26.0" fill="#2a22c8"/>
<path d="M543.31 215.0V264.0" stroke="#7168de" stroke-width="1.25" fill="none"/>
<rect x="542.16" y="234.7" width="2.3" height="27.3" fill="#2a22c8"/>
<path d="M546.04 232.0V262.0" stroke="#d8bc42" stroke-width="1.25" fill="none"/>
<rect x="544.89" y="234.7" width="2.3" height="15.3" fill="#d2ae1e"/>
<path d="M548.77 226.0V252.0" stroke="#7168de" stroke-width="1.25" fill="none"/>
<rect x="547.62" y="232.7" width="2.3" height="17.7" fill="#2a22c8"/>
<path d="M551.50 213.0V308.0" stroke="#d8bc42" stroke-width="1.25" fill="none"/>
<rect x="550.35" y="215.0" width="2.3" height="25.5" fill="#d2ae1e"/>
<path d="M554.23 200.0V246.0" stroke="#7168de" stroke-width="1.25" fill="none"/>
<rect x="553.08" y="219.0" width="2.3" height="21.5" fill="#2a22c8"/>
<path d="M556.96 185.5V230.0" stroke="#7168de" stroke-width="1.25" fill="none"/>
<rect x="555.81" y="204.0" width="2.3" height="15.0" fill="#2a22c8"/>
<path d="M559.69 190.0V228.0" stroke="#d8bc42" stroke-width="1.25" fill="none"/>
<rect x="558.54" y="205.0" width="2.3" height="22.0" fill="#d2ae1e"/>
<path d="M562.42 193.4V228.8" stroke="#d8bc42" stroke-width="1.25" fill="none"/>
<rect x="561.27" y="206.0" width="2.3" height="18.0" fill="#d2ae1e"/>
<path d="M565.15 218.0V258.0" stroke="#d8bc42" stroke-width="1.25" fill="none"/>
<rect x="564.00" y="221.0" width="2.3" height="7.8" fill="#d2ae1e"/>
<path d="M567.87 198.0V236.6" stroke="#7168de" stroke-width="1.25" fill="none"/>
<rect x="566.72" y="199.0" width="2.3" height="30.0" fill="#2a22c8"/>
<path d="M570.60 184.5V216.0" stroke="#d8bc42" stroke-width="1.25" fill="none"/>
<rect x="569.45" y="199.0" width="2.3" height="14.0" fill="#d2ae1e"/>
<path d="M573.33 173.7V216.0" stroke="#7168de" stroke-width="1.25" fill="none"/>
<rect x="572.18" y="209.0" width="2.3" height="5.0" fill="#2a22c8"/>
<path d="M576.06 208.0V256.0" stroke="#d8bc42" stroke-width="1.25" fill="none"/>
<rect x="574.91" y="210.0" width="2.3" height="23.7" fill="#d2ae1e"/>
<path d="M578.79 211.0V248.4" stroke="#7168de" stroke-width="1.25" fill="none"/>
<rect x="577.64" y="213.0" width="2.3" height="21.7" fill="#2a22c8"/>
<path d="M581.52 209.0V228.0" stroke="#d8bc42" stroke-width="1.25" fill="none"/>
<rect x="580.37" y="213.0" width="2.3" height="11.8" fill="#d2ae1e"/>
<path d="M584.25 210.0V287.0" stroke="#d8bc42" stroke-width="1.25" fill="none"/>
<rect x="583.10" y="223.0" width="2.3" height="57.0" fill="#d2ae1e"/>
<path d="M586.98 237.6V286.0" stroke="#7168de" stroke-width="1.25" fill="none"/>
<rect x="585.83" y="244.5" width="2.3" height="40.2" fill="#2a22c8"/>
<path d="M589.71 242.0V257.0" stroke="#d8bc42" stroke-width="1.25" fill="none"/>
<rect x="588.56" y="244.5" width="2.3" height="6.9" fill="#d2ae1e"/>
<path d="M592.44 236.0V253.0" stroke="#7168de" stroke-width="1.25" fill="none"/>
<rect x="591.29" y="239.6" width="2.3" height="11.8" fill="#2a22c8"/>
<path d="M595.16 198.3V242.5" stroke="#7168de" stroke-width="1.25" fill="none"/>
<rect x="594.01" y="207.0" width="2.3" height="34.5" fill="#2a22c8"/>
<path d="M597.89 160.0V221.0" stroke="#7168de" stroke-width="1.25" fill="none"/>
<rect x="596.74" y="178.7" width="2.3" height="30.3" fill="#2a22c8"/>
<path d="M600.62 117.7V166.5" stroke="#4a3aa8" stroke-width="0.9" fill="none"/>
<path d="M600.62 165V189.5" stroke="#7168de" stroke-width="1.25" fill="none"/>
<rect x="599.47" y="165.0" width="2.3" height="13.7" fill="#2a22c8"/>
<path d="M603.35 148.6V201.0" stroke="#d8bc42" stroke-width="1.25" fill="none"/>
<rect x="602.20" y="158.0" width="2.3" height="17.0" fill="#d2ae1e"/>
<path d="M606.08 168.0V199.0" stroke="#d8bc42" stroke-width="1.25" fill="none"/>
<rect x="604.93" y="172.0" width="2.3" height="25.0" fill="#d2ae1e"/>
<path d="M608.81 192.0V213.0" stroke="#d8bc42" stroke-width="1.25" fill="none"/>
<rect x="607.66" y="195.0" width="2.3" height="11.0" fill="#d2ae1e"/>
<path d="M611.54 186.5V212.0" stroke="#7168de" stroke-width="1.25" fill="none"/>
<rect x="610.39" y="192.4" width="2.3" height="13.6" fill="#2a22c8"/>
<path d="M614.27 184.5V197.0" stroke="#7168de" stroke-width="1.25" fill="none"/>
<rect x="613.12" y="190.5" width="2.3" height="5.8" fill="#2a22c8"/>
</g>
<path d="M5.5 41.8C6.4 45.5 6.9 46.7 8.3 52.8C9.7 58.9 8.0 53.1 9.8 60C11.6 66.9 11.3 64.8 13.8 73.4C16.3 82.0 13.3 80.3 17.2 85.8C21.1 91.3 20.3 86.5 25.4 90C30.5 93.5 27.8 92.5 32.4 96.3C37.0 100.1 35.4 96.4 39.3 101.3C43.2 106.2 40.3 101.2 44.2 111C48.1 120.8 46.1 117.9 51 130.7C55.9 143.5 54.4 139.0 59 149.4C63.6 159.8 61.5 155.8 64.8 162C68.1 168.2 66.5 167.3 68.8 168C71.1 168.7 69.1 165.7 71.7 164C74.3 162.3 73.7 165.0 76.6 163C79.5 161.0 77.2 159.7 80.5 158C83.8 156.3 82.5 157.3 86.4 158C90.3 158.7 88.4 159.0 92.3 160C96.2 161.0 93.6 161.7 98.2 161C102.8 160.3 100.7 161.0 106 158C111.3 155.0 109.4 155.2 114 152C118.6 148.8 116.9 148.9 119.8 148.4C122.7 147.9 120.0 146.2 122.8 150.4C125.6 154.6 125.1 154.1 128.2 161C131.3 167.9 129.4 161.1 132 171C134.6 180.9 133.7 177.0 136 190.7C138.3 204.4 137.0 196.2 139 212C141.0 227.8 140.0 222.7 142 238C144.0 253.3 143.0 243.0 145 258C147.0 273.0 145.7 265.0 148 283C150.3 301.0 149.0 295.3 152 312C155.0 328.7 153.7 322.0 157 333C160.3 344.0 159.0 343.7 162 345C165.0 346.3 163.0 343.7 166 337C169.0 330.3 167.4 335.5 171 325C174.6 314.5 172.9 318.5 176.8 305.5C180.7 292.5 179.6 297.8 182.7 286C185.8 274.2 183.4 279.7 186 270C188.6 260.3 187.1 266.7 190.6 257C194.1 247.3 191.8 248.9 196.4 241C201.0 233.1 199.0 237.2 204.3 233.4C209.6 229.6 207.6 229.2 212.2 229.5C216.8 229.8 214.4 230.2 218 234.4C221.6 238.6 220.0 240.8 223 242C226.0 243.2 224.1 242.2 227 238C229.9 233.8 228.5 235.2 231.8 229.5C235.1 223.8 233.1 226.9 237 221C240.9 215.1 239.1 217.6 243.6 211.8C248.1 206.0 246.6 205.5 250.5 203.6C254.4 201.7 252.0 204.4 255.2 206C258.4 207.6 256.9 206.2 260.2 208.4C263.5 210.6 261.9 209.8 265.2 212.6C268.5 215.4 266.3 212.7 270.2 216.8C274.1 220.9 273.0 220.6 276.9 225C280.8 229.4 278.0 226.1 281.9 230C285.8 233.9 284.7 232.3 288.6 236.8C292.5 241.3 290.3 239.6 293.6 243.5C296.9 247.4 295.3 247.1 298.6 248.5C301.9 249.9 300.3 248.9 303.6 247.7C306.9 246.5 305.3 246.1 308.6 245C311.9 243.9 310.8 243.7 313.6 244.3C316.4 244.9 314.7 243.5 317 246.8C319.3 250.1 318.0 245.9 320.5 254.3C323.0 262.7 321.5 258.9 324.4 272C327.3 285.1 326.0 279.9 329.3 293.6C332.6 307.3 331.0 300.7 334.2 313.2C337.4 325.7 336.6 322.5 339 331C341.4 339.5 339.3 334.5 341.4 338.7C343.5 342.9 339.5 341.7 345.4 343.7C351.3 345.7 351.8 338.8 359 344.6C366.2 350.4 361.1 351.2 367 361C372.9 370.8 370.6 366.3 376.8 374C383.0 381.7 379.1 375.8 385.6 384C392.1 392.2 391.5 395.8 396.4 398.7C401.3 401.6 395.8 396.0 400.4 392.8C405.0 389.6 404.0 393.9 410.2 389C416.4 384.1 413.1 378.0 419 378C424.9 378.0 421.8 385.7 428 389C434.2 392.3 431.2 390.7 437.7 388C444.2 385.3 440.3 382.7 447.5 381C454.7 379.3 452.8 380.7 459.3 383C465.8 385.3 461.1 380.5 467 388C472.9 395.5 470.4 396.4 477 405.5C483.6 414.6 480.6 409.9 486.8 415.4C493.0 420.9 490.5 422.7 495.7 422C500.9 421.3 497.7 419.5 502.5 413.4C507.3 407.3 506.2 411.4 510 403.6C513.8 395.8 511.3 400.5 514 390C516.7 379.5 515.1 385.3 518 372C520.9 358.7 519.6 364.7 522.6 350C525.6 335.3 524.2 341.3 527 328C529.8 314.7 528.0 322.7 531 310C534.0 297.3 533.0 301.0 536 290C539.0 279.0 535.7 285.0 540 277C544.3 269.0 543.4 277.5 549 266C554.6 254.5 551.6 255.6 556.8 242.5C562.0 229.4 559.5 236.0 564.7 226.8C569.9 217.6 568.3 219.9 572.5 215C576.7 210.1 573.5 208.7 577.4 212C581.3 215.3 579.4 217.2 584.3 224.8C589.2 232.4 587.0 235.3 592.2 234.7C597.4 234.1 594.8 231.6 600 223C605.2 214.4 603.3 218.9 607.9 209C612.5 199.1 611.8 198.6 613.8 193.4" fill="none" stroke="#5a48d6" stroke-width="0.9" stroke-linejoin="round"/>
<path d="M64.4 33.5L587.2 444" stroke="#22140a" stroke-width="1.75" fill="none"/>
<g font-weight="bold">
<text x="663.8" y="113" font-size="16" fill="#e6a224" textLength="114.2" lengthAdjust="spacingAndGlyphs">Resistance Area</text>
<text x="721.2" y="270.6" font-size="16" fill="#5d9f47" textLength="97.5" lengthAdjust="spacingAndGlyphs">Support Level</text>
<text x="672" y="431.5" font-size="16" fill="#5d9f47" textLength="141" lengthAdjust="spacingAndGlyphs">Major Support Level</text>
<text x="643.5" y="320.3" font-size="12.4" fill="#3c48e2" textLength="238.2" lengthAdjust="spacingAndGlyphs">The demand zone around $5.5 is crucial,</text>
<text x="643.5" y="332.6" font-size="12.4" fill="#3c48e2" textLength="266.5" lengthAdjust="spacingAndGlyphs">potentially dictating the future price direction</text>
</g>
<text x="11.7" y="49.2" font-size="10" font-weight="bold" fill="#1a1a1a" textLength="129.3" lengthAdjust="spacingAndGlyphs">AXS / TetherUS, 1D, BINANCE</text>
<path d="M7.5 562H1016" stroke="#ececec" stroke-width="1" fill="none"/>
<g font-size="9.2" fill="#333333">
<text x="980.8" y="88.6" textLength="19.1" lengthAdjust="spacingAndGlyphs">8.00</text>
<text x="980.8" y="122.0" textLength="19.1" lengthAdjust="spacingAndGlyphs">7.50</text>
<text x="980.8" y="151.3" textLength="19.1" lengthAdjust="spacingAndGlyphs">7.10</text>
<text x="980.8" y="181.6" textLength="19.1" lengthAdjust="spacingAndGlyphs">6.70</text>
<text x="980.8" y="214.1" textLength="19.1" lengthAdjust="spacingAndGlyphs">6.30</text>
<text x="980.8" y="248.3" textLength="19.1" lengthAdjust="spacingAndGlyphs">5.90</text>
<text x="980.8" y="285.3" textLength="19.1" lengthAdjust="spacingAndGlyphs">5.50</text>
<text x="980.8" y="315.6" textLength="19.1" lengthAdjust="spacingAndGlyphs">5.20</text>
<text x="980.8" y="347.3" textLength="19.1" lengthAdjust="spacingAndGlyphs">4.90</text>
<text x="980.8" y="380.6" textLength="19.1" lengthAdjust="spacingAndGlyphs">4.60</text>
<text x="980.8" y="404.1" textLength="19.1" lengthAdjust="spacingAndGlyphs">4.40</text>
<text x="980.8" y="428.7" textLength="19.1" lengthAdjust="spacingAndGlyphs">4.20</text>
<text x="980.8" y="454.3" textLength="19.1" lengthAdjust="spacingAndGlyphs">4.00</text>
<text x="980.8" y="481.9" textLength="19.1" lengthAdjust="spacingAndGlyphs">3.80</text>
<text x="980.8" y="507.5" textLength="19.1" lengthAdjust="spacingAndGlyphs">3.62</text>
<text x="980.8" y="531.6" textLength="19.1" lengthAdjust="spacingAndGlyphs">3.46</text>
<text x="18.7" y="575.9" textLength="17.2" lengthAdjust="spacingAndGlyphs">May</text>
<text x="104.6" y="575.9" textLength="14.9" lengthAdjust="spacingAndGlyphs">Jun</text>
<text x="188" y="575.9" textLength="12.0" lengthAdjust="spacingAndGlyphs">Jul</text>
<text x="270" y="575.9" textLength="16.0" lengthAdjust="spacingAndGlyphs">Aug</text>
<text x="355" y="575.9" textLength="16.0" lengthAdjust="spacingAndGlyphs">Sep</text>
<text x="438" y="575.9" textLength="14.5" lengthAdjust="spacingAndGlyphs">Oct</text>
<text x="520.5" y="575.9" textLength="17.9" lengthAdjust="spacingAndGlyphs">Nov</text>
<text x="602.4" y="575.9" textLength="16.8" lengthAdjust="spacingAndGlyphs">Dec</text>
<text x="772" y="575.9" textLength="16.0" lengthAdjust="spacingAndGlyphs">Feb</text>
<text x="851.6" y="575.9" textLength="15.9" lengthAdjust="spacingAndGlyphs">Mar</text>
<text x="936.5" y="575.9" textLength="15.9" lengthAdjust="spacingAndGlyphs">Apr</text>
<text x="684" y="575.9" font-weight="bold" fill="#111" textLength="23" lengthAdjust="spacingAndGlyphs">2024</text>
</g>
<rect x="974.6" y="185.1" width="30.4" height="12.5" fill="#2a40d2"/>
<text x="980.8" y="194.6" font-size="9.2" fill="#ffffff" textLength="19.2" lengthAdjust="spacingAndGlyphs">6.54</text>
<rect x="977.5" y="36.5" width="38.5" height="19.5" rx="2.5" fill="#ffffff" stroke="#ededed" stroke-width="1"/>
<text x="984.6" y="49.2" font-size="8.8" fill="#2c2c2c" textLength="24.2" lengthAdjust="spacingAndGlyphs">USDT</text>
<path d="M4.4 32.9H1019.7" stroke="#8a8c8e" stroke-width="1.9" fill="none"/>
<path d="M5.15 32H5.15V583.8" stroke="#858789" stroke-width="1.5" fill="none"/>
<path d="M1018.8 32V583.8" stroke="#858789" stroke-width="1.8" fill="none"/>
<path d="M4.4 583.1H1019.7" stroke="#707072" stroke-width="1.4" fill="none"/>
<g font-size="10.6" fill="#141414">
<text x="5.2" y="13.1" font-weight="bold" textLength="71.2" lengthAdjust="spacingAndGlyphs">MonoCoinSignal</text>
<text x="79.4" y="13.1" textLength="279.8" lengthAdjust="spacingAndGlyphs">published on TradingView.com, December 02, 2023 09:50:22 EST</text>
<text x="5.2" y="26.2" font-weight="bold" textLength="99.6" lengthAdjust="spacingAndGlyphs">BINANCE:AXSUSDT, 1D</text>
<text x="109.7" y="26.2" textLength="17.6" lengthAdjust="spacingAndGlyphs">6.54</text>
<polygon points="129.8,26.4 133.2,19.7 136.6,26.4" fill="#5f8fa0"/>
<text x="140.6" y="26.2" textLength="63.4" lengthAdjust="spacingAndGlyphs">+0.04 (+0.62%)</text>
<text x="208" y="26.2" font-weight="bold" textLength="9.8" lengthAdjust="spacingAndGlyphs">O:</text>
<text x="218.7" y="26.2" fill="#83a0aa" textLength="17.8" lengthAdjust="spacingAndGlyphs">6.49</text>
<text x="240.9" y="26.2" font-weight="bold" textLength="9.5" lengthAdjust="spacingAndGlyphs">H:</text>
<text x="251" y="26.2" fill="#83a0aa" textLength="17.8" lengthAdjust="spacingAndGlyphs">6.62</text>
<text x="273.6" y="26.2" font-weight="bold" textLength="6.6" lengthAdjust="spacingAndGlyphs">L:</text>
<text x="281.3" y="26.2" fill="#83a0aa" textLength="17.8" lengthAdjust="spacingAndGlyphs">6.47</text>
<text x="303" y="26.2" font-weight="bold" textLength="8.2" lengthAdjust="spacingAndGlyphs">C:</text>
<text x="312.2" y="26.2" fill="#83a0aa" textLength="17.8" lengthAdjust="spacingAndGlyphs">6.54</text>
</g>
<g fill="#15161b">
<path d="M4.7 592.3H11.7V601.1H8V596.4H4.7Z"/>
<circle cx="13.65" cy="594.2" r="1.55"/>
<path d="M17 592.3H21.7L18.2 601.1H13.8Z"/>
<text x="25.8" y="601.1" font-size="11.8" font-weight="bold" textLength="68.5" lengthAdjust="spacingAndGlyphs">TradingView</text>
</g>
</svg></body></html>
